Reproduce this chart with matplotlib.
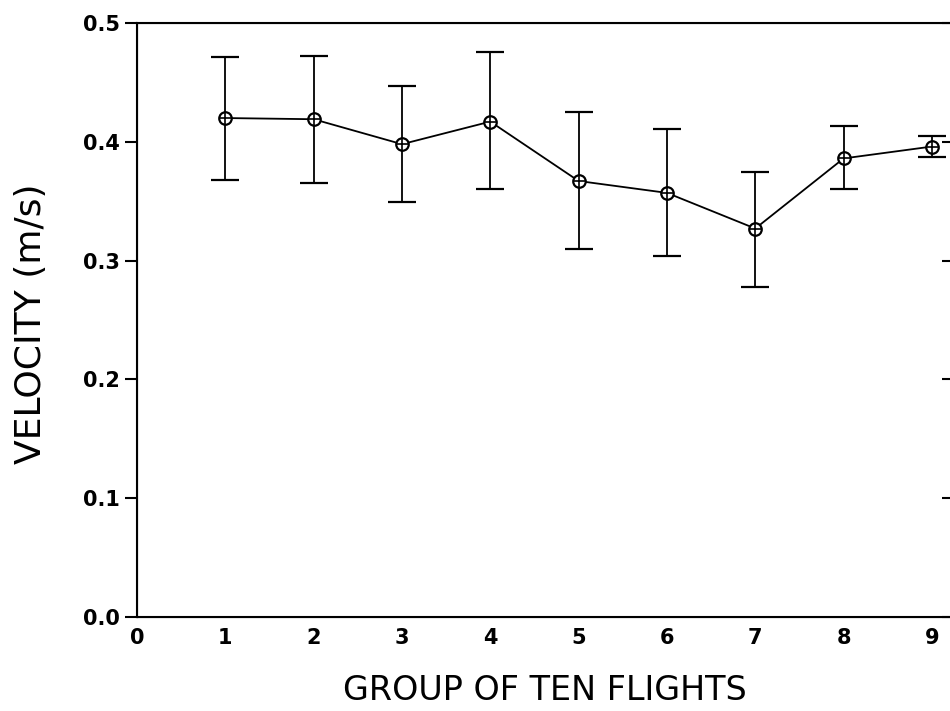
import numpy as np
import matplotlib
matplotlib.use("Agg")
import matplotlib.pyplot as plt

# datos
groups = [1, 2, 3, 4, 5, 6, 7, 8, 9]
velocity = [0.420, 0.419, 0.398, 0.417, 0.367, 0.357, 0.327, 0.386, 0.396]
err_hi = [0.471, 0.472, 0.447, 0.476, 0.425, 0.411, 0.375, 0.413, 0.405]
err_lo = [0.368, 0.365, 0.349, 0.360, 0.310, 0.304, 0.278, 0.360, 0.387]
xticks = [0, 1, 2, 3, 4, 5, 6, 7, 8, 9]
yticks = [0.0, 0.1, 0.2, 0.3, 0.4, 0.5]

plt.rcParams["font.family"] = ["DejaVu Sans"]

v = np.array(velocity)
yerr = [v - np.array(err_lo), np.array(err_hi) - v]

fig = plt.figure(figsize=(9.5, 7.11), dpi=100)
ax = fig.add_axes([137 / 950, 94 / 711, 817 / 950, 594 / 711])

ax.errorbar(groups, velocity, yerr=yerr, color="black", lw=1.3,
            elinewidth=1.3, capsize=10, capthick=1.6, zorder=2)
ax.plot(groups, velocity, "o", ms=9, mfc="white", mec="black", mew=1.6, zorder=3)
ax.plot(groups, velocity, "+", ms=9, color="black", mew=1.2, zorder=4)

ax.set_xlim(0, 9.25)
ax.set_ylim(0, 0.5)
ax.set_xticks(xticks)
ax.set_yticks(yticks)
ax.set_yticklabels([f"{t:.1f}" for t in yticks])
ax.tick_params(axis="x", length=0, pad=8, labelsize=15)
ax.tick_params(axis="y", direction="out", length=9, width=1.5, pad=3, labelsize=15)
for lab in ax.get_xticklabels() + ax.get_yticklabels():
    lab.set_fontweight("bold")
for sp in ax.spines.values():
    sp.set_linewidth(1.5)

# ticks hacia dentro en el eje derecho (casi fuera de la imagen)
ax2 = ax.twinx()
ax2.set_ylim(0, 0.5)
ax2.set_yticks(yticks)
ax2.tick_params(axis="y", direction="in", length=9, width=1.5, labelright=False)
ax2.spines["right"].set_linewidth(1.5)

fig.text(545 / 950, 1 - 690 / 711, "GROUP OF TEN FLIGHTS", ha="center",
         va="center", fontsize=24)
fig.text(31 / 950, 1 - 324 / 711, "VELOCITY (m/s)", ha="center", va="center",
         rotation=90, fontsize=26)

fig.savefig("out.png", dpi=100)
